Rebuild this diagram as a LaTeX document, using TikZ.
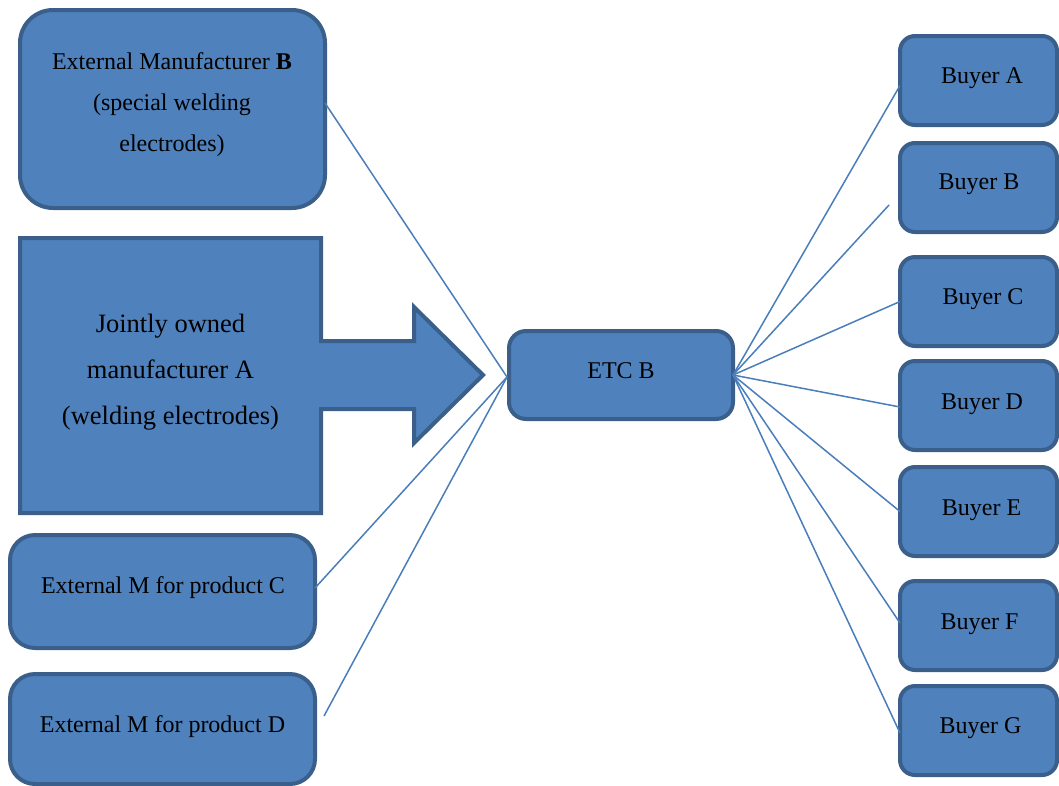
\documentclass[tikz,border=0pt]{standalone}
\usepackage{fontspec}
\setmainfont{Liberation Serif}
\definecolor{shapefill}{HTML}{4F81BD}
\definecolor{shapeedge}{HTML}{3A5F8B}
\definecolor{linkblue}{HTML}{4A7EBB}
\begin{document}
\begin{tikzpicture}[x=1pt,y=-1pt,
  panel/.style={fill=shapefill, draw=shapeedge, line width=4pt, inner sep=0pt, outer sep=0pt},
  buyerbox/.style={panel, rounded corners=15pt, minimum width=157pt, minimum height=89pt},
  label24/.style={font=\fontsize{24}{41}\selectfont, align=center, anchor=base, inner sep=0pt},
  label26/.style={font=\fontsize{26.5}{46}\selectfont, align=center, anchor=base, inner sep=0pt},
  link/.style={draw=linkblue, line width=1.5pt}
]
\useasboundingbox (0,0) rectangle (1059,785);

% supplier side
\node[panel, rounded corners=33pt, minimum width=305pt, minimum height=198pt] (extB) at (172.5,109) {};
\node[panel, rounded corners=25pt, minimum width=305pt, minimum height=113pt] (extC) at (162.5,591.5) {};
\node[panel, rounded corners=25pt, minimum width=305pt, minimum height=110pt] (extD) at (162.5,729) {};

% jointly owned manufacturer, drawn as a block with an arrow
\draw[panel, line join=miter] (20,238) -- (321,238) -- (321,341) -- (414,341) -- (414,307)
  -- (483,375) -- (414,443) -- (414,409) -- (321,409) -- (321,513) -- (20,513) -- cycle;

% trading company
\node[panel, rounded corners=17pt, minimum width=224pt, minimum height=88pt] (etc) at (621,375) {};
\coordinate (hubL) at (507,377);

% buyers
\node[buyerbox] (buyA) at (978.5,80.5) {};
\node[buyerbox] (buyB) at (978.5,187.5) {};
\node[buyerbox] (buyC) at (978.5,301.5) {};
\node[buyerbox] (buyD) at (978.5,405.5) {};
\node[buyerbox] (buyE) at (978.5,511.5) {};
\node[buyerbox] (buyF) at (978.5,625.5) {};
\node[buyerbox] (buyG) at (978.5,730.5) {};

% free ends of the connectors
\coordinate (endD) at ([xshift=9pt,yshift=13pt]extD.east);
\coordinate (endB) at ([xshift=-11pt,yshift=-17.5pt]buyB.west);

% connectors into the trading company
\draw[link] ([yshift=6pt]extB.east) -- (hubL);
\draw[link] ([yshift=3.5pt]extC.east) -- (hubL);
\draw[link] (endD) -- (hubL);

% connectors out to the buyers
\draw[link] (etc.east) -- ([yshift=-5pt]buyA.west);
\draw[link] (etc.east) -- (endB);
\draw[link] (etc.east) -- (buyC.west);
\draw[link] (etc.east) -- ([yshift=-1.5pt]buyD.west);
\draw[link] (etc.east) -- (buyE.west);
\draw[link] (etc.east) -- ([yshift=2.5pt]buyF.west);
\draw[link] (etc.east) -- ([yshift=-2.5pt]buyG.west);

% texts (multi-line labels are anchored at their last baseline)
\node[label24] (extBtext) at (172,151) {External Manufacturer \textbf{B}\\(special welding\\electrodes)};
\node[label26] (jointText) at (170.5,424) {Jointly owned\\manufacturer A\\(welding electrodes)};
\node[label24] (extCtext) at (163,593) {External M for product C};
\node[label24] (extDtext) at (162.5,732) {External M for product D};
\node[label24] (etcText) at (621,378) {ETC B};
\node[label24] (buyAtext) at (982,83) {Buyer A};
\node[label24] (buyBtext) at (979,189) {Buyer B};
\node[label24] (buyCtext) at (983,304) {Buyer C};
\node[label24] (buyDtext) at (982,409) {Buyer D};
\node[label24] (buyEtext) at (981.5,515) {Buyer E};
\node[label24] (buyFtext) at (979.5,629) {Buyer F};
\node[label24] (buyGtext) at (980.5,733) {Buyer G};
\end{tikzpicture}
\end{document}
